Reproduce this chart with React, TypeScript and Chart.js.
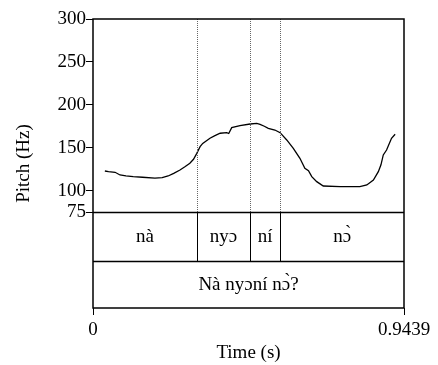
import { useEffect, useRef } from "react";
import { Chart, registerables } from "chart.js";

Chart.register(...registerables);

// ---- data ----
const pitchTimes = [
  0.036, 0.047, 0.067, 0.082, 0.1, 0.122, 0.15, 0.188, 0.21, 0.228, 0.245, 0.264, 0.28, 0.294,
  0.305, 0.315, 0.325, 0.333, 0.355, 0.37, 0.386, 0.406, 0.412, 0.421, 0.446, 0.477, 0.497, 0.507,
  0.52, 0.532, 0.552, 0.568, 0.588, 0.608, 0.628, 0.643, 0.654, 0.664, 0.679, 0.699, 0.75, 0.81,
  0.831, 0.851, 0.866, 0.874, 0.881, 0.891, 0.906, 0.917,
];
const pitchHz = [
  122.8, 122.0, 121.3, 118.2, 117.2, 116.2, 115.5, 114.6, 115.0, 117, 120, 124, 128, 131.8,
  136.5, 143.4, 151.2, 155, 161, 164, 166.8, 167.5, 166.5, 173.3, 175.6, 177.6, 178.4, 177.2,
  175, 172.6, 170.6, 167.5, 159, 149.3, 137.6, 126, 123.2, 116.2, 110.4, 105.3, 104.5, 104.5,
  106.5, 112.3, 122, 130, 141.5, 147.3, 161, 165.6,
];
const yTickValues = [75, 100, 150, 200, 250, 300];
const xTickValues = [0, 0.9439];
const xTickLabels = ["0", "0.9439"];
const wordBoundaries = [0.3147, 0.4765, 0.5685];
const wordLabels = ["nà", "nyɔ", "ní", "nɔ̀"];
const sentenceLabel = "Nà nyɔní nɔ̀?";

const T_MIN = 0;
const T_MAX = 0.9439;
const PITCH_MIN = 75;
const PITCH_MAX = 300;
// the two text-grid tiers continue the vertical axis below the pitch floor
const TIER1_FLOOR = 18.2;
const AXIS_FLOOR = -36.9;

const FONT = "'Liberation Serif', 'DejaVu Serif', serif";

const tierPlugin = {
  id: "tiers",
  afterDatasetsDraw(chart: any) {
    const { ctx, chartArea, scales } = chart;
    const { left, right, top, bottom } = chartArea;
    const x = scales.x;
    const y = scales.y;
    const y75 = Math.round(y.getPixelForValue(PITCH_MIN)) + 0.5;
    const yT1 = Math.round(y.getPixelForValue(TIER1_FLOOR)) + 0.5;
    ctx.save();
    // dotted boundaries in the pitch area
    ctx.strokeStyle = "#666";
    ctx.lineWidth = 1;
    ctx.setLineDash([1, 1]);
    ctx.beginPath();
    for (const b of wordBoundaries) {
      const px = Math.round(x.getPixelForValue(b)) + 0.5;
      ctx.moveTo(px, top);
      ctx.lineTo(px, y75);
    }
    ctx.stroke();
    ctx.setLineDash([]);
    // solid boundaries in tier 1
    ctx.strokeStyle = "#000";
    ctx.beginPath();
    for (const b of wordBoundaries) {
      const px = Math.round(x.getPixelForValue(b)) + 0.5;
      ctx.moveTo(px, y75);
      ctx.lineTo(px, yT1);
    }
    ctx.stroke();
    // tier separators and box
    ctx.lineWidth = 1.5;
    ctx.beginPath();
    ctx.moveTo(left, y75);
    ctx.lineTo(right, y75);
    ctx.moveTo(left, yT1);
    ctx.lineTo(right, yT1);
    ctx.stroke();
    ctx.strokeRect(left, top, right - left, bottom - top);
    // labels
    ctx.fillStyle = "#000";
    ctx.font = `19px ${FONT}`;
    ctx.textAlign = "center";
    ctx.textBaseline = "middle";
    const edges = [T_MIN, ...wordBoundaries, T_MAX];
    wordLabels.forEach((lab, i) => {
      const cx = (x.getPixelForValue(edges[i]) + x.getPixelForValue(edges[i + 1])) / 2;
      ctx.fillText(lab, cx, (y75 + yT1) / 2);
    });
    ctx.fillText(
      sentenceLabel,
      (x.getPixelForValue(T_MIN) + x.getPixelForValue(T_MAX)) / 2,
      (yT1 + bottom) / 2
    );
    ctx.restore();
  },
};

export default function App() {
  const ref = useRef<HTMLCanvasElement | null>(null);
  useEffect(() => {
    if (!ref.current) return;
    Chart.defaults.font.family = FONT;
    Chart.defaults.color = "#000";
    const chart = new Chart(ref.current, {
      type: "line",
      data: {
        datasets: [
          {
            data: pitchTimes.map((t, i) => ({ x: t, y: pitchHz[i] })),
            borderColor: "#000",
            borderWidth: 1.3,
            pointRadius: 0,
            tension: 0,
            fill: false,
          },
        ],
      },
      options: {
        animation: false,
        responsive: false,
        events: [],
        layout: { padding: { top: 19, right: 34, bottom: 0, left: 0 } },
        plugins: { legend: { display: false }, tooltip: { enabled: false } },
        scales: {
          x: {
            type: "linear",
            min: T_MIN,
            max: T_MAX,
            afterBuildTicks: (s: any) => {
              s.ticks = xTickValues.map((v) => ({ value: v }));
            },
            afterFit: (s: any) => {
              s.height = 57;
            },
            ticks: {
              autoSkip: false,
              maxRotation: 0,
              padding: 4,
              font: { size: 19 },
              color: "#000",
              callback: (v: any) => xTickLabels[xTickValues.indexOf(Number(v))] ?? "",
            },
            grid: {
              display: true,
              drawOnChartArea: false,
              drawTicks: true,
              tickLength: 7,
              color: "#000",
              lineWidth: 1,
            },
            border: { display: false },
            title: {
              display: true,
              text: "Time (s)",
              font: { size: 19 },
              color: "#000",
              padding: { top: 0, bottom: 1 },
            },
          },
          y: {
            type: "linear",
            min: AXIS_FLOOR,
            max: PITCH_MAX,
            afterBuildTicks: (s: any) => {
              s.ticks = yTickValues.map((v) => ({ value: v }));
            },
            afterFit: (s: any) => {
              s.width = 93;
            },
            ticks: {
              autoSkip: false,
              padding: 0,
              font: { size: 19 },
              color: "#000",
              callback: (v: any) => String(v),
            },
            grid: {
              display: true,
              drawOnChartArea: false,
              drawTicks: true,
              tickLength: 7,
              color: "#000",
              lineWidth: 1,
            },
            border: { display: false },
            title: {
              display: true,
              text: "Pitch (Hz)",
              font: { size: 19 },
              color: "#000",
              padding: { top: 13, bottom: 0 },
            },
          },
        },
      },
      plugins: [tierPlugin],
    });
    return () => chart.destroy();
  }, []);
  return (
    <div style={{ position: "fixed", left: 0, top: 0, width: 438, height: 365, background: "#fff" }}>
      <canvas ref={ref} width={438} height={365} style={{ display: "block" }} />
    </div>
  );
}
